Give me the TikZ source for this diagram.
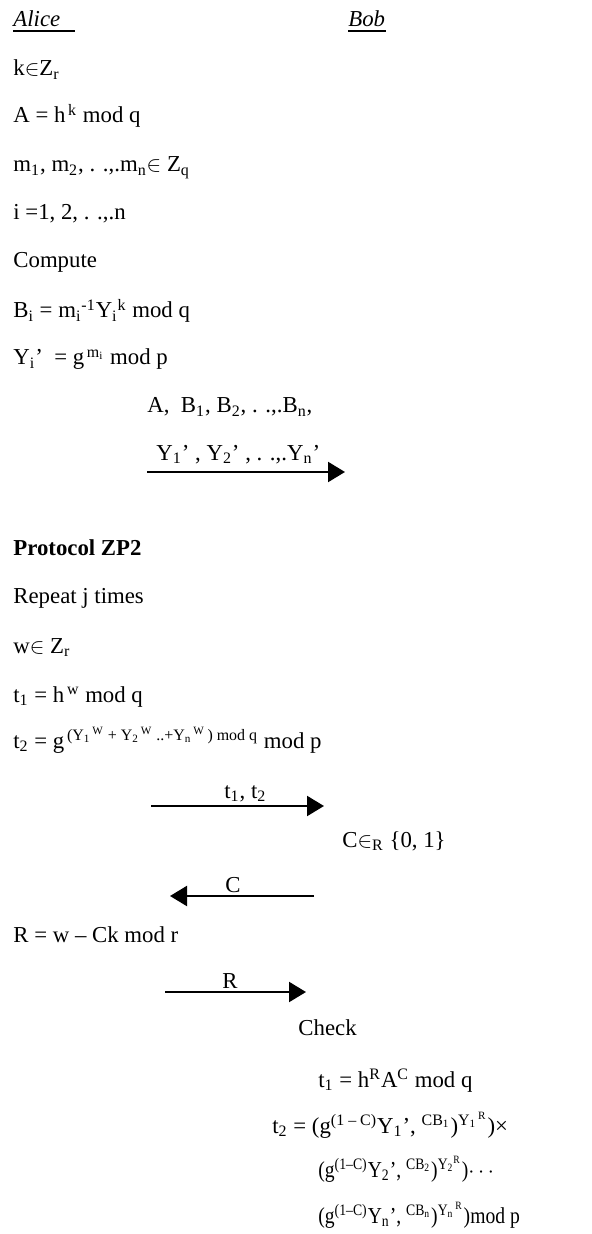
\documentclass[tikz,border=0pt]{standalone}
\usepackage{fontspec}
\setmainfont{Liberation Serif}
\usetikzlibrary{arrows.meta, positioning}
\newcommand{\sbs}[1]{\textsubscript{#1}}
\newcommand{\sps}[1]{\textsuperscript{#1}}
\newcommand{\elt}{\ensuremath{\in}}
\tikzset{
    line_txt/.style={
        anchor=base west, inner sep=0pt, font=\fontsize{11.4}{13.7}\selectfont
    },
    tight_txt/.style={
        line_txt, font=\fontsize{11.4}{13.7}\selectfont\addfontfeatures{FakeStretch=0.86}
    },
    party_lbl/.style={
        line_txt, font=\fontsize{11.4}{13.7}\selectfont\itshape, text depth=1.9pt
    },
    under_line/.style={line width=1.3pt, line cap=butt},
    msg_arrow/.style={
        -{Triangle[length=8.5pt, width=10pt]}, line width=1.1pt, draw=black
    }
}

\begin{document}
\begin{tikzpicture}[x=0.5pt, y=-0.5pt]
    \useasboundingbox (0,0) rectangle (592,1234);

    % parties
    \node[party_lbl, text width=30.5pt, align=left] (alice) at (13,27) {Alice};
    \node[party_lbl] (bob) at (348,27) {Bob};
    \draw[under_line] (alice.south west) -- (alice.south east);
    \draw[under_line] (bob.south west) -- (bob.south east);

    % commitment
    \node[line_txt] (kz) at (13,76) {k\elt Z\sbs{r}};
    \node[line_txt] (acom) at (13,123) {A = h\sps{\,k} mod q};
    \node[line_txt] (msg) at (13,172) {m\sbs{1}, m\sbs{2}, . .,.m\sbs{n}\elt\ Z\sbs{q}};
    \node[line_txt] (idx) at (13,220) {i =1, 2, . .,.n};
    \node[line_txt] (comp) at (13,268) {Compute};
    \node[line_txt] (bi) at (13,318) {B\sbs{i} = m\sbs{i}\sps{-1}Y\sbs{i}\sps{k} mod q};
    \node[line_txt] (yi) at (13,365) {Y\sbs{i}’ \ = g\sps{\,m\sbs{i}} mod p};

    \node[line_txt] (snd1a) at (147,413) {A, \ B\sbs{1}, B\sbs{2}, . .,.B\sbs{n},};
    \node[line_txt] (snd1b) at (156,460) {Y\sbs{1}’ , Y\sbs{2}’ , . .,.Y\sbs{n}’};
    \coordinate (m1s) at (147,472);
    \coordinate (m1e) at (345,472);
    \draw[msg_arrow] (m1s) -- (m1e);

    % protocol ZP2
    \node[line_txt, font=\fontsize{11.4}{13.7}\selectfont\bfseries] (zp2) at (13,555) {Protocol ZP2};
    \node[line_txt] (rep) at (13,603) {Repeat j times};
    \node[line_txt] (wz) at (13,653) {w\elt\ Z\sbs{r}};
    \node[line_txt] (t1a) at (13,702) {t\sbs{1} = h\sps{\,w} mod q};
    \node[line_txt] (t2a) at (13,748) {t\sbs{2} = g\sps{\,(Y\sbs{1}\sps{\,W} + Y\sbs{2}\sps{\,W} ..+Y\sbs{n}\sps{\,W}\,) mod q} mod p};

    \node[line_txt] (lt) at (224,798) {t\sbs{1}, t\sbs{2}};
    \coordinate (m2s) at (151,806);
    \coordinate (m2e) at (324,806);
    \draw[msg_arrow] (m2s) -- (m2e);

    \node[line_txt] (cr) at (342,847) {C\elt\sbs{R} \{0, 1\}};

    \node[line_txt] (lc) at (225,892) {C};
    \coordinate (m3s) at (314,896);
    \coordinate (m3e) at (170,896);
    \draw[msg_arrow] (m3s) -- (m3e);

    \node[line_txt] (resp) at (13,942) {R = w – Ck mod r};

    \node[line_txt] (lr) at (222,988) {R};
    \coordinate (m4s) at (165,992);
    \coordinate (m4e) at (306,992);
    \draw[msg_arrow] (m4s) -- (m4e);

    % verification
    \node[line_txt] (chk) at (298,1035) {Check};
    \node[line_txt] (t1b) at (318,1087) {t\sbs{1} = h\sps{R}A\sps{C} mod q};
    \node[line_txt] (t2b) at (272,1133) {t\sbs{2} = (g\sps{(1 – C)}Y\sbs{1}’, \sps{CB\sbs{1}})\sps{Y\sbs{1}\sps{\,R}})×};
    \node[tight_txt] (t2c) at (318,1177) {(g\sps{(1–C)}Y\sbs{2}’, \sps{CB\sbs{2}})\sps{Y\sbs{2}\sps{R}})$\cdots$};
    \node[tight_txt] (t2d) at (318,1223) {(g\sps{(1–C)}Y\sbs{n}’, \sps{CB\sbs{n}})\sps{Y\sbs{n}\sps{\,R}})mod p};
\end{tikzpicture}
\end{document}
